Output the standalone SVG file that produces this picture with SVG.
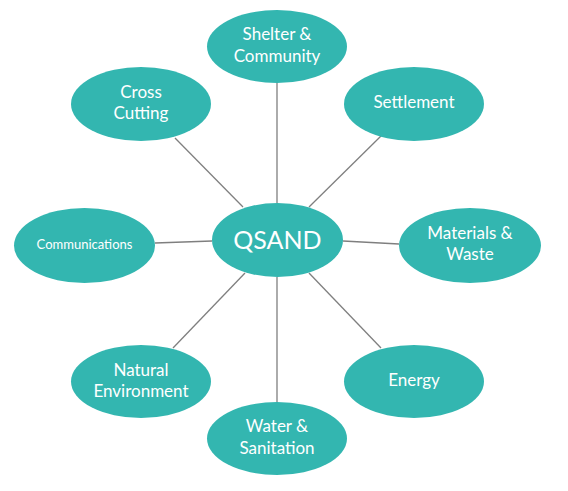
<svg xmlns="http://www.w3.org/2000/svg" width="568" height="491" viewBox="0 0 568 491">
<style>
.n{fill:#33B6B0}
.t{fill:#fff;font-family:Lato,"Open Sans","Liberation Sans",sans-serif;font-size:17px;text-anchor:middle}
.c{stroke:#7f7f7f;stroke-width:1.3;fill:none}
</style>
<rect width="568" height="491" fill="#fff"/>
<g id="connectors">
<line class="c" x1="277" y1="83" x2="277" y2="203"/>
<line class="c" x1="381" y1="136" x2="309" y2="207"/>
<line class="c" x1="175" y1="138" x2="243" y2="207"/>
<line class="c" x1="155" y1="243" x2="212" y2="241"/>
<line class="c" x1="343" y1="241" x2="399" y2="244"/>
<line class="c" x1="309" y1="273" x2="381" y2="348"/>
<line class="c" x1="277" y1="277" x2="277" y2="402"/>
<line class="c" x1="245" y1="273" x2="173" y2="348"/>
</g>
<g id="qsand"><ellipse class="n" cx="277.5" cy="240" rx="65.5" ry="37"/><text class="t" x="277.5" y="249" style="font-size:25px">QSAND</text></g>
<g id="shelter"><ellipse class="n" cx="277" cy="46.5" rx="70" ry="36.5"/><text class="t" x="277" y="40">Shelter &amp;</text><text class="t" x="277" y="62">Community</text></g>
<g id="settlement"><ellipse class="n" cx="414" cy="104" rx="70" ry="37"/><text class="t" x="414" y="108">Settlement</text></g>
<g id="cross"><ellipse class="n" cx="141" cy="104" rx="70" ry="37"/><text class="t" x="141" y="98">Cross</text><text class="t" x="141" y="119">Cutting</text></g>
<g id="communications"><ellipse class="n" cx="84.5" cy="245.5" rx="70.5" ry="37.5"/><text class="t" x="84.5" y="249" style="font-size:13px">Communications</text></g>
<g id="materials"><ellipse class="n" cx="470" cy="245.5" rx="71" ry="37.5"/><text class="t" x="470" y="239">Materials &amp;</text><text class="t" x="470" y="260">Waste</text></g>
<g id="natural"><ellipse class="n" cx="141" cy="381.5" rx="70" ry="36.5"/><text class="t" x="141" y="376">Natural</text><text class="t" x="141" y="397">Environment</text></g>
<g id="energy"><ellipse class="n" cx="414" cy="381.5" rx="70" ry="36.5"/><text class="t" x="414" y="386">Energy</text></g>
<g id="water"><ellipse class="n" cx="277" cy="438.5" rx="70" ry="36.5"/><text class="t" x="277" y="432">Water &amp;</text><text class="t" x="277" y="454">Sanitation</text></g>
</svg>
